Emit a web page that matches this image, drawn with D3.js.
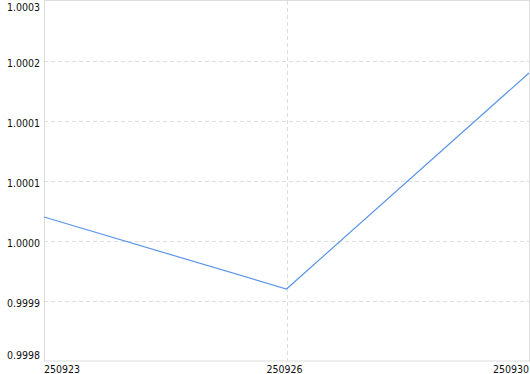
<!DOCTYPE html>
<html>
<head>
<meta charset="utf-8">
<script src="https://cdn.jsdelivr.net/npm/d3@7"></script>
<style>
  body { margin: 0; background: #fff; }
  text { font-family: "DejaVu Sans Condensed", "DejaVu Sans", sans-serif; font-size: 10.5px; fill: #111; }
</style>
</head>
<body>
<script>
var w = 530,
    h = 374;

var dates = ["250923", "250926", "250930"];
var values = [1.0000, 0.9999, 1.0002];
var yTicks = [0.9998, 0.99988333, 0.99996667, 1.00005, 1.00013333, 1.00021667, 1.0003];

var m = {top: 1, right: 1, bottom: 13, left: 44};

var x = d3.scalePoint()
    .domain(dates)
    .range([m.left, w - m.right]);

var y = d3.scaleLinear()
    .domain([0.9998, 1.0003])
    .range([h - m.bottom, m.top]);

var svg = d3.select("body").append("svg")
    .attr("width", w)
    .attr("height", h);

// horizontal grid
svg.append("g")
  .selectAll("line")
  .data(yTicks.slice(1, -1))
  .enter()
  .append("line")
  .attr("x1", m.left)
  .attr("x2", w - m.right)
  .attr("y1", function(d) { return Math.round(y(d)) + 0.5; })
  .attr("y2", function(d) { return Math.round(y(d)) + 0.5; })
  .attr("stroke", "#ddd")
  .attr("stroke-dasharray", "4,3");

// vertical grid
svg.append("g")
  .selectAll("line")
  .data(dates.slice(1, -1))
  .enter()
  .append("line")
  .attr("x1", function(d) { return Math.round(x(d)) + 0.5; })
  .attr("x2", function(d) { return Math.round(x(d)) + 0.5; })
  .attr("y1", m.top)
  .attr("y2", h - m.bottom)
  .attr("stroke", "#ddd")
  .attr("stroke-dasharray", "4,3");

// frame
svg.append("rect")
  .attr("x", m.left + 0.5)
  .attr("y", m.top - 0.5)
  .attr("width", w - m.left - m.right)
  .attr("height", h - m.top - m.bottom + 0.5)
  .attr("fill", "none")
  .attr("stroke", "#ddd");

// y labels
svg.append("g")
  .selectAll("text")
  .data(yTicks)
  .enter()
  .append("text")
  .attr("x", m.left - 4)
  .attr("y", function(d, i) {
    var py = y(d) + 6;
    if (i === 0) py = h - m.bottom - 2;
    if (i === yTicks.length - 1) py = m.top + 10;
    return py;
  })
  .attr("text-anchor", "end")
  .text(function(d) { return d.toFixed(4); });

// x labels
svg.append("g")
  .selectAll("text")
  .data(dates)
  .enter()
  .append("text")
  .attr("x", function(d, i) {
    if (i === 0 || i === dates.length - 1) return x(d);
    return x(d) - 2;
  })
  .attr("y", h - 1.5)
  .attr("text-anchor", function(d, i) {
    if (i === 0) return "start";
    if (i === dates.length - 1) return "end";
    return "middle";
  })
  .text(function(d) { return d; });

var lineFn = d3.line()
    .x(function(d, i) { return x(dates[i]); })
    .y(function(d) { return y(d); });

svg.append("path")
  .attr("d", lineFn(values))
  .attr("fill", "none")
  .attr("stroke", "#5b95ea")
  .attr("stroke-width", 1.2);
</script>
</body>
</html>
